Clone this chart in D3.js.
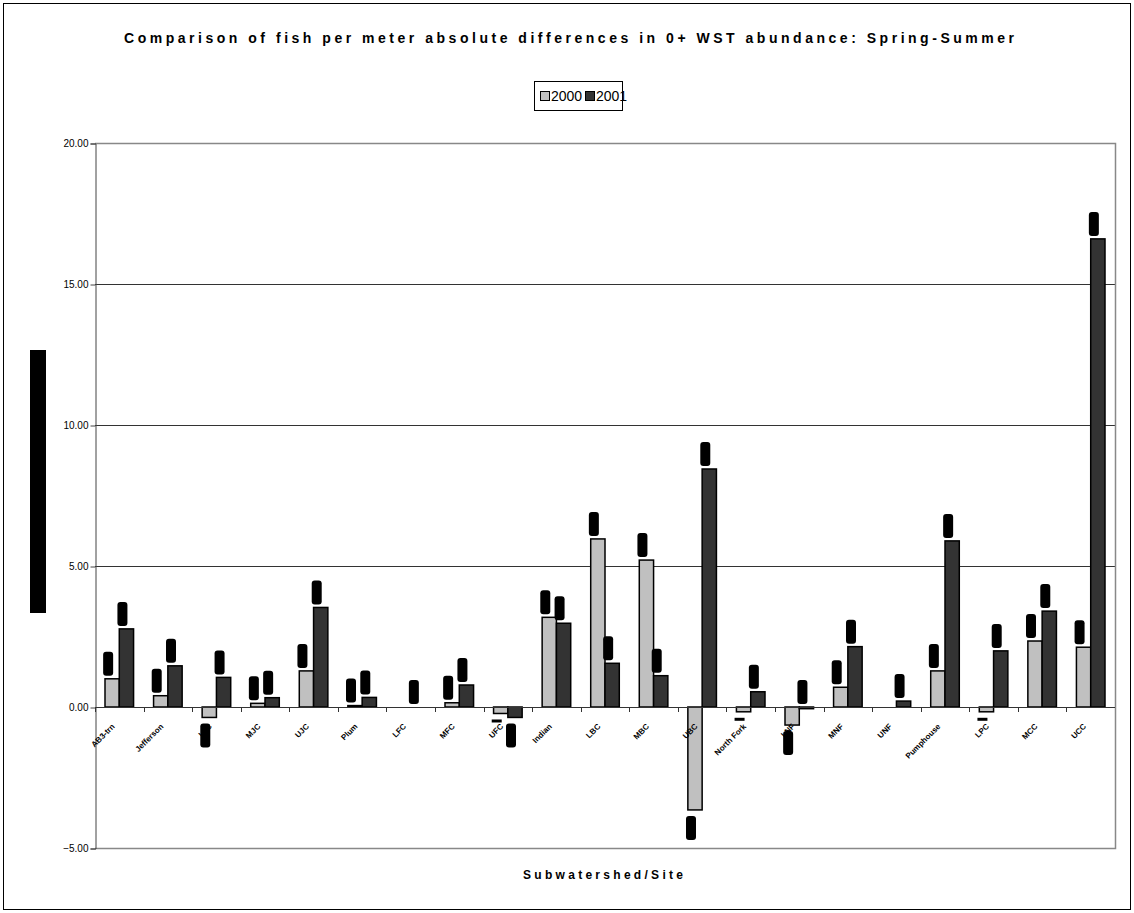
<!DOCTYPE html>
<html>
<head>
<meta charset="utf-8">
<script src="https://cdn.jsdelivr.net/npm/d3@7"></script>
<style>
  body { margin: 0; background: #fff; }
  text { font-family: Arial, "Liberation Sans", sans-serif; }
</style>
</head>
<body>
<div id="chart"></div>
<script>
// data
var sites = ["AB3-trn", "Jefferson", "LJC", "MJC", "UJC", "Plum", "LFC", "MFC", "UFC", "Indian",
             "LBC", "MBC", "UBC", "North Fork", "LNF", "MNF", "UNF", "Pumphouse", "LPC", "MCC", "UCC"];
var y2000 = [1.00, 0.40, -0.37, 0.13, 1.28, 0.05, null, 0.15, -0.23, 3.18,
             5.96, 5.21, -3.65, -0.17, -0.64, 0.70, null, 1.28, -0.17, 2.34, 2.12];
var y2001 = [2.77, 1.46, 1.05, 0.33, 3.53, 0.34, 0.00, 0.78, -0.37, 2.97,
             1.55, 1.11, 8.44, 0.54, -0.06, 2.14, 0.21, 5.89, 1.99, 3.40, 16.60];
var series = ["2000", "2001"];
var yTicks = [-5, 0, 5, 10, 15, 20];

var W = 1134, H = 913;
var plot = {left: 95, right: 1115, top: 143, bottom: 848};

var svg = d3.select("#chart").append("svg")
    .attr("width", W)
    .attr("height", H);

// outer frame
svg.append("rect")
    .attr("x", 3.5).attr("y", 3.5)
    .attr("width", 1127).attr("height", 906)
    .attr("fill", "#fff")
    .attr("stroke", "#000");

// scales
var x = d3.scaleBand()
    .domain(sites)
    .range([plot.left, plot.right]);
var x1 = d3.scaleBand()
    .domain(series)
    .range([0, x.bandwidth()])
    .paddingInner(0)
    .paddingOuter(0.7);
var y = d3.scaleLinear()
    .domain([-5, 20])
    .range([plot.bottom, plot.top]);
var color = d3.scaleOrdinal().domain(series).range(["#c0c0c0", "#333333"]);

// gridlines
svg.append("g")
  .selectAll("line")
  .data(yTicks.filter(function(d){ return d > 0; }))
  .enter().append("line")
    .attr("x1", plot.left).attr("x2", plot.right)
    .attr("y1", function(d){ return Math.round(y(d)) + 0.5; })
    .attr("y2", function(d){ return Math.round(y(d)) + 0.5; })
    .attr("stroke", "#333");

// plot area border (right, bottom)
svg.append("path")
    .attr("d", "M" + plot.left + "," + (plot.top + 0.5) + "H" + (plot.right + 0.5) +
               "V" + (plot.bottom + 0.5) + "H" + plot.left)
    .attr("fill", "none")
    .attr("stroke", "#888")
    .attr("stroke-width", 1.5);

// Y axis
var yAxis = svg.append("g")
    .attr("transform", "translate(" + (plot.left + 0.5) + ",0.5)")
    .call(d3.axisLeft(y).tickValues(yTicks).tickSize(5).tickFormat(d3.format(".2f")));
yAxis.select(".domain").attr("stroke", "#444");
yAxis.selectAll(".tick line").attr("stroke", "#444");
yAxis.selectAll("text")
    .attr("font-size", "10px")
    .attr("fill", "#000")
    .attr("x", -7);

// bars
var groups = svg.append("g")
  .selectAll("g")
  .data(sites)
  .enter().append("g")
    .attr("transform", function(d){ return "translate(" + x(d) + ",0)"; });

function barData(d, i) {
  return [{key: "2000", v: y2000[i]}, {key: "2001", v: y2001[i]}]
    .filter(function(b){ return b.v !== null; });
}

groups.selectAll("rect.bar")
  .data(function(d){ return barData(d, sites.indexOf(d)); })
  .enter().append("rect")
    .attr("class", "bar")
    .attr("x", function(b){ return x1(b.key); })
    .attr("width", x1.bandwidth())
    .attr("y", function(b){ return y(Math.max(0, b.v)); })
    .attr("height", function(b){ return Math.abs(y(b.v) - y(0)); })
    .attr("fill", function(b){ return color(b.key); })
    .attr("stroke", "#000")
    .attr("stroke-width", 1.5);

// data labels (rendered as solid black blocks in the original;
// small negatives come out as thin dashes)
function lblKind(v) {
  if (v >= -0.1) return "above";
  if (v > -0.3) return "dash";
  return "below";
}
groups.selectAll("rect.lbl")
  .data(function(d){ return barData(d, sites.indexOf(d)); })
  .enter().append("rect")
    .attr("class", "lbl")
    .attr("x", function(b){ return x1(b.key) + x1.bandwidth() / 2 - 9; })
    .attr("width", 10)
    .attr("y", function(b){
      var k = lblKind(b.v);
      if (k === "above") return y(Math.max(0, b.v)) - 27;
      if (k === "dash") return y(b.v) + 6;
      return y(b.v) + 6;
    })
    .attr("height", function(b){ return lblKind(b.v) === "dash" ? 3 : 24; })
    .attr("rx", function(b){ return lblKind(b.v) === "dash" ? 0 : 3; })
    .attr("fill", "#000");

// zero axis line + category ticks
svg.append("line")
    .attr("x1", plot.left).attr("x2", plot.right)
    .attr("y1", Math.round(y(0)) + 0.5).attr("y2", Math.round(y(0)) + 0.5)
    .attr("stroke", "#333");
svg.append("g")
  .selectAll("line")
  .data(sites)
  .enter().append("line")
    .attr("x1", function(d){ return Math.round(x(d)) + 0.5; })
    .attr("x2", function(d){ return Math.round(x(d)) + 0.5; })
    .attr("y1", y(0)).attr("y2", y(0) + 5)
    .attr("stroke", "#333");

// x tick labels
svg.append("g")
  .selectAll("text")
  .data(sites)
  .enter().append("text")
    .attr("transform", function(d){
      return "translate(" + (x(d) + x.bandwidth() / 2 - 4) + "," + (y(0) + 20) + ") rotate(-45)";
    })
    .attr("text-anchor", "end")
    .attr("font-size", "8px")
    .attr("font-weight", "bold")
    .text(function(d){ return d; });

// title
svg.append("text")
    .attr("x", 124).attr("y", 43)
    .attr("textLength", 890)
    .attr("lengthAdjust", "spacing")
    .attr("font-size", "14px")
    .attr("font-weight", "bold")
    .text("Comparison of fish per meter absolute differences in 0+ WST abundance: Spring-Summer");

// legend
var legend = svg.append("g").attr("transform", "translate(534,81)");
legend.append("rect")
    .attr("x", 0.5).attr("y", 0.5)
    .attr("width", 88).attr("height", 29)
    .attr("fill", "#fff").attr("stroke", "#000");
var lx = [6, 51];
series.forEach(function(s, i){
  legend.append("rect")
    .attr("x", lx[i] + 0.5).attr("y", 10.5)
    .attr("width", 9).attr("height", 9)
    .attr("fill", color(s)).attr("stroke", "#000");
  legend.append("text")
    .attr("x", lx[i] + 11).attr("y", 20)
    .attr("font-size", "14px")
    .text(s);
});

// y axis title (rendered as a black block in the original)
svg.append("rect")
    .attr("x", 30).attr("y", 350)
    .attr("width", 16).attr("height", 263)
    .attr("fill", "#000");
svg.append("text")
    .attr("transform", "translate(42,481) rotate(-90)")
    .attr("text-anchor", "middle")
    .attr("font-size", "11px")
    .attr("font-weight", "bold")
    .attr("fill", "#000")
    .text("Fish per meter");

// x axis title
svg.append("text")
    .attr("x", 523).attr("y", 879)
    .attr("textLength", 160)
    .attr("lengthAdjust", "spacing")
    .attr("font-size", "12px")
    .attr("font-weight", "bold")
    .text("Subwatershed/Site");
</script>
</body>
</html>
